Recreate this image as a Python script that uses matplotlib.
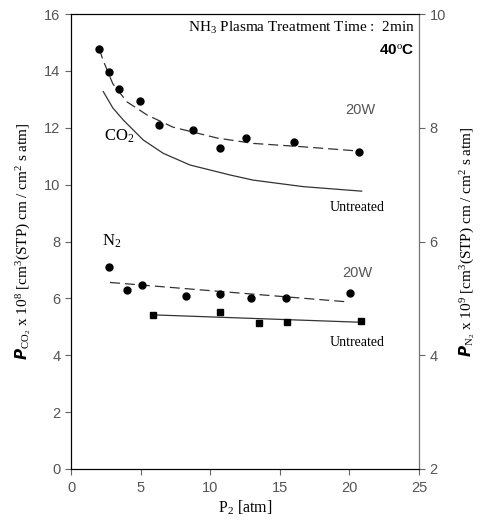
import matplotlib
matplotlib.use("Agg")
import matplotlib.pyplot as plt

# CO2 data (left axis)
co2_20w_x = [2.03, 2.75, 3.43, 4.96, 6.32, 8.74, 10.70, 12.57, 16.02, 20.71]
co2_20w_y = [14.76, 13.96, 13.36, 12.94, 12.09, 11.92, 11.30, 11.65, 11.49, 11.16]
co2_20w_fit_x = [2.03, 2.30, 3.00, 4.02, 5.46, 7.33, 10.49, 13.07, 16.67, 20.69]
co2_20w_fit_y = [14.77, 14.38, 13.55, 12.91, 12.45, 12.02, 11.64, 11.45, 11.33, 11.18]
co2_unt_fit_x = [2.32, 3.00, 3.76, 5.19, 6.63, 8.55, 11.42, 13.07, 16.67, 20.88]
co2_unt_fit_y = [13.27, 12.70, 12.27, 11.57, 11.10, 10.69, 10.34, 10.16, 9.93, 9.77]

# N2 data (right axis)
n2_20w_x = [2.73, 4.02, 5.08, 8.28, 10.70, 12.91, 15.45, 20.04]
n2_20w_y = [5.56, 5.14, 5.23, 5.05, 5.08, 5.00, 5.00, 5.09]
n2_20w_fit_x = [2.80, 19.80]
n2_20w_fit_y = [5.28, 4.94]
n2_unt_x = [5.91, 10.70, 13.53, 15.54, 20.81]
n2_unt_y = [4.71, 4.76, 4.56, 4.59, 4.61]
n2_unt_fit_x = [5.91, 20.81]
n2_unt_fit_y = [4.71, 4.58]

serif = "Liberation Serif"
sans = "Liberation Sans"
gray = "#555555"

plt.rcParams["mathtext.fontset"] = "custom"
plt.rcParams["mathtext.rm"] = serif
plt.rcParams["mathtext.it"] = serif + ":italic"
plt.rcParams["mathtext.bf"] = serif + ":bold"

fig = plt.figure(figsize=(4.85, 5.21), dpi=100)
ax = fig.add_axes([71/485, 1-469/521, (419-71)/485, (469-14)/521])
ax2 = ax.twinx()

ax.plot(co2_20w_fit_x, co2_20w_fit_y, color="#333333", lw=0.9, dashes=(8, 4))
ax.plot(co2_unt_fit_x, co2_unt_fit_y, color="#333333", lw=0.9)
ax.plot(co2_20w_x, co2_20w_y, "o", color="black", ms=5)

ax2.plot(n2_20w_fit_x, n2_20w_fit_y, color="#333333", lw=0.9, dashes=(8, 4))
ax2.plot(n2_unt_fit_x, n2_unt_fit_y, color="#333333", lw=0.9)
ax2.plot(n2_20w_x, n2_20w_y, "o", color="black", ms=5)
ax2.plot(n2_unt_x, n2_unt_y, "s", color="black", ms=5)

ax.set_xlim(0, 25)
ax.set_ylim(0, 16)
ax2.set_ylim(2, 10)
ax.set_xticks(range(0, 26, 5))
ax.set_yticks(range(0, 17, 2))
ax2.set_yticks(range(2, 11, 2))

for a in (ax, ax2):
    a.tick_params(direction="out", length=4, width=0.8, labelsize=10.5,
                  labelcolor=gray, colors="#666666")
    for lab in a.get_xticklabels() + a.get_yticklabels():
        lab.set_fontfamily(sans)
    for s in a.spines.values():
        s.set_linewidth(0.8)
ax.spines["top"].set_color("black")
ax2.spines["right"].set_color("#777777")
ax.tick_params(axis="x", pad=5)

ax.set_xlabel(r"P$_2$ [atm]", family=serif, fontsize=11.5, labelpad=2)
ax.set_ylabel(r"$\boldsymbol{P}_{\mathrm{CO_2}}$ x 10$^8$ [cm$^3$(STP) cm / cm$^2$ s atm]",
              family=serif, fontsize=11, labelpad=8)
ax2.set_ylabel(r"$\boldsymbol{P}_{\mathrm{N_2}}$ x 10$^9$ [cm$^3$(STP) cm / cm$^2$ s atm]",
               family=serif, fontsize=11, rotation=90, labelpad=9)

ax.text(24.7, 15.5, r"NH$_3$ Plasma Treatment Time :  2min", family=serif,
        fontsize=11, ha="right", va="center")
ax.text(24.7, 14.73, r"40$^{\mathrm{o}}$C", family=sans, fontweight="bold",
        fontsize=11, ha="right", va="center")
ax.text(2.4, 11.7, r"CO$_2$", family=serif, fontsize=12, ha="left", va="center")
ax.text(2.2, 8.0, r"N$_2$", family=serif, fontsize=12, ha="left", va="center")
ax.text(19.7, 12.62, "20W", family=sans, fontsize=10.5, color=gray, ha="left", va="center")
ax.text(19.5, 6.89, "20W", family=sans, fontsize=10.5, color=gray, ha="left", va="center")
ax.text(18.6, 9.2, "Untreated", family=serif, fontsize=10, ha="left", va="center")
ax.text(18.6, 4.45, "Untreated", family=serif, fontsize=10, ha="left", va="center")

fig.savefig("out.png", dpi=100)
